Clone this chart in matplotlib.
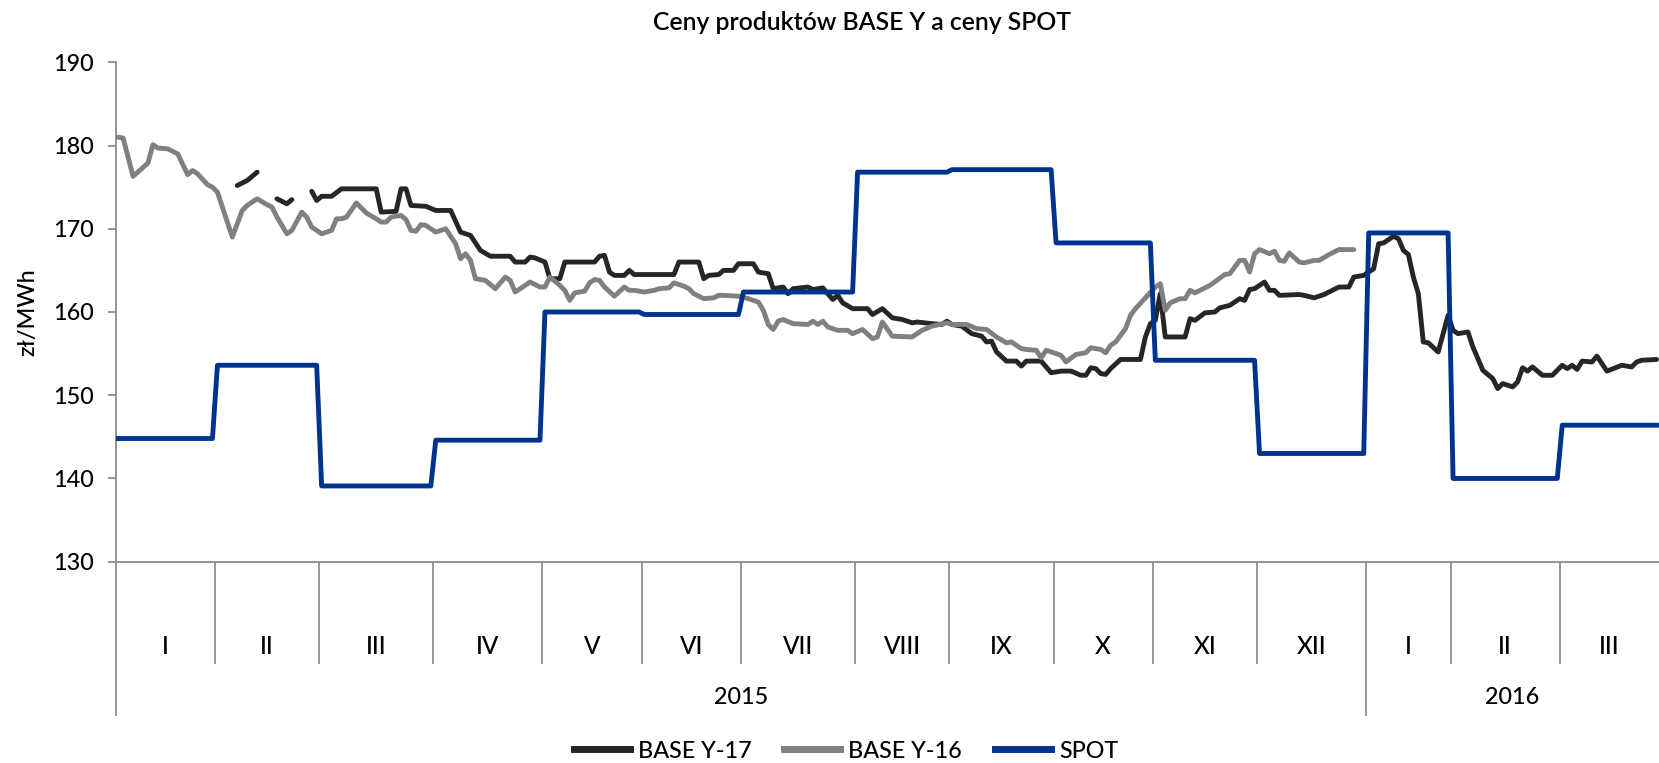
import numpy as np
import matplotlib
matplotlib.use("Agg")
import matplotlib.pyplot as plt
from matplotlib.lines import Line2D

plt.rcParams['font.family'] = ['Lato', 'DejaVu Sans']
plt.rcParams['font.weight'] = 'medium'

# ---------------- data ----------------
month_labels = ["I", "II", "III", "IV", "V", "VI", "VII", "VIII", "IX", "X", "XI", "XII", "I", "II", "III"]
month_days = [20, 21, 23, 22, 20, 20, 23, 19, 21, 20, 21, 22, 17, 22, 20]   # trading days per month
years = ["2015", "2016"]
year_months = [12, 3]

spot_monthly = [144.8, 153.6, 139.1, 144.6, 160.0, 159.7, 162.4, 176.8, 177.1,
                168.3, 154.2, 143.0, 169.5, 140.0, 146.4]

# BASE Y-16 (trading-day index, price)
y16_days = [0, 1, 3, 6, 7, 8, 10, 12, 14, 15, 16, 18, 19, 20, 23, 25, 26, 28, 30, 31,
            32, 34, 35, 37, 38, 39, 41, 43, 44, 45, 46, 48, 50, 52, 53, 54, 55, 57, 58,
            59, 60, 61, 62, 64, 66, 68, 69, 70, 71, 72, 74, 76, 78, 79, 80, 83, 85, 86,
            87, 89, 90, 91, 92, 94, 95, 96, 97, 98, 100, 102, 103, 104, 106, 108, 109,
            111, 112, 114, 115, 116, 118, 120, 121, 122, 125, 127, 129, 130, 131, 132,
            133, 134, 136, 139, 140, 141, 142, 143, 145, 147, 148, 150, 152, 153, 154,
            156, 160, 162, 164, 167, 168, 171, 173, 175, 177, 179, 180, 182, 183, 185,
            186, 187, 190, 191, 193, 195, 196, 198, 199, 200, 201, 203, 204, 205, 207,
            209, 210, 211, 212, 214, 215, 216, 217, 220, 223, 224, 226, 227, 228, 229,
            230, 232, 233, 234, 235, 236, 238, 239, 241, 242, 244, 246, 249]
y16_vals = [181.0, 180.9, 176.3, 177.9, 180.1, 179.7, 179.6, 179.0, 176.5, 177.0, 176.6,
            175.3, 175.0, 174.4, 169.0, 172.2, 172.8, 173.6, 172.9, 172.6, 171.4, 169.4,
            169.8, 172.0, 171.4, 170.2, 169.4, 169.8, 171.2, 171.2, 171.4, 173.1, 171.9,
            171.2, 170.8, 170.8, 171.4, 171.6, 171.1, 169.8, 169.7, 170.5, 170.4, 169.6,
            170.0, 168.2, 166.4, 167.0, 166.2, 164.0, 163.8, 162.8, 164.2, 163.8, 162.4,
            163.6, 163.0, 163.0, 164.2, 163.2, 162.6, 161.4, 162.3, 162.5, 163.5, 163.9,
            163.8, 163.0, 161.9, 163.0, 162.6, 162.6, 162.4, 162.6, 162.8, 162.9, 163.5,
            163.1, 162.8, 162.2, 161.6, 161.7, 162.0, 162.0, 161.9, 161.6, 161.2, 160.2,
            158.5, 157.9, 158.9, 159.1, 158.6, 158.5, 158.9, 158.5, 158.9, 158.2, 157.8,
            157.8, 157.4, 157.9, 156.8, 157.0, 158.8, 157.1, 157.0, 157.8, 158.3, 158.7,
            158.5, 158.5, 158.0, 157.9, 157.0, 156.3, 156.4, 155.6, 155.5, 155.4, 154.5,
            155.4, 154.8, 154.0, 154.9, 155.1, 155.7, 155.5, 155.1, 156.0, 156.4, 158.0,
            159.6, 160.4, 161.7, 163.0, 163.4, 160.2, 161.1, 161.6, 161.6, 162.6, 162.3,
            163.2, 164.5, 164.6, 166.2, 166.2, 164.8, 167.0, 167.5, 167.0, 167.3, 166.2,
            166.1, 167.1, 166.0, 165.9, 166.2, 166.2, 166.9, 167.5, 167.5]

# BASE Y-17 (trading-day index, price); None = no quote
y17_days = [24, 26, 28, None, 32, 34, 35, None,
            39, 40, 41, 43, 45, 52, 53, 56, 57, 58, 59, 62, 64, 67, 69, 71, 73, 75, 79,
            80, 82, 83, 84, 86, 87, 89, 90, 96, 97, 98, 99, 100, 102, 103, 104, 112, 113,
            117, 118, 119, 121, 122, 124, 125, 128, 129, 131, 132, 134, 135, 136, 139,
            140, 142, 143, 144, 145, 146, 148, 151, 152, 154, 156, 158, 160, 161, 164,
            166, 167, 168, 170, 172, 174, 175, 176, 177, 179, 181, 182, 183, 186, 188,
            190, 192, 194, 195, 196, 197, 198, 199, 200, 202, 206, 207, 208, 209, 210,
            211, 215, 216, 217, 219, 221, 222, 224, 226, 227, 228, 229, 231, 232, 233,
            234, 238, 239, 241, 243, 246, 248, 249, 251, 253, 254, 255, 257, 258, 259,
            260, 261, 262, 263, 264, 266, 268, 269, 270, 272, 273, 275, 277, 278, 279,
            281, 282, 283, 284, 285, 287, 289, 291, 292, 293, 294, 295, 297, 298, 300,
            303, 305, 306, 307, 310]
y17_vals = [175.2, 175.8, 176.8, None, 173.6, 173.0, 173.5, None,
            174.5, 173.4, 173.9, 173.9, 174.8, 174.8, 172.0, 172.1, 174.8, 174.8, 172.8,
            172.7, 172.2, 172.2, 169.6, 169.2, 167.4, 166.7, 166.7, 166.0, 166.0, 166.6,
            166.5, 166.0, 164.0, 164.0, 166.0, 166.0, 166.7, 166.8, 164.8, 164.4, 164.4,
            165.0, 164.5, 164.5, 166.0, 166.0, 164.0, 164.4, 164.5, 165.0, 165.0, 165.8,
            165.8, 164.8, 164.6, 162.8, 163.0, 162.2, 162.8, 163.0, 162.7, 162.9, 162.2,
            161.5, 162.0, 161.1, 160.4, 160.4, 159.7, 160.4, 159.3, 159.1, 158.7, 158.8,
            158.6, 158.5, 158.9, 158.5, 158.3, 157.4, 157.1, 156.4, 156.5, 155.2, 154.1,
            154.1, 153.5, 154.1, 154.1, 152.7, 152.9, 152.9, 152.4, 152.4, 153.3, 153.2,
            152.6, 152.5, 153.2, 154.3, 154.3, 157.0, 158.6, 159.0, 162.2, 157.0, 157.0,
            159.2, 159.0, 159.9, 160.0, 160.5, 160.8, 161.6, 161.4, 162.7, 162.8, 163.6,
            162.6, 162.6, 162.0, 162.1, 162.0, 161.7, 162.1, 163.0, 163.0, 164.2, 164.4,
            165.2, 168.2, 168.3, 169.1, 168.8, 167.4, 166.9, 164.2, 162.2, 156.4, 156.3,
            155.2, 159.6, 157.8, 157.4, 157.6, 155.8, 153.0, 152.0, 150.8, 151.4, 151.0,
            151.6, 153.3, 152.9, 153.4, 152.4, 152.4, 153.6, 153.2, 153.6, 153.1, 154.1,
            154.0, 154.7, 152.9, 153.6, 153.4, 154.0, 154.2, 154.3]

# ---------------- figure ----------------
W, H = 1659, 763
fig = plt.figure(figsize=(W / 100, H / 100), dpi=100)

x_left, x_right = 115.7, 1659.0
y_top, y_bot = 62.3, 561.7
ax = fig.add_axes([x_left / W, 1 - y_bot / H, (x_right - x_left) / W, (y_bot - y_top) / H])

n_days = sum(month_days)
ax.set_xlim(-0.5, n_days - 0.5)
ax.set_ylim(130, 190)

axis_col = '#8c8c8c'
c17, c16, cspot = '#262626', '#808080', '#00338d'

def to_arr(v):
    return np.array([np.nan if e is None else e for e in v], dtype=float)

spot_daily = np.repeat(spot_monthly, month_days)
days = np.arange(n_days)

ax.plot(to_arr(y17_days), to_arr(y17_vals), color=c17, lw=3.5, solid_joinstyle='round',
        solid_capstyle='round', zorder=3)
ax.plot(y16_days, y16_vals, color=c16, lw=3.5, solid_joinstyle='round',
        solid_capstyle='round', zorder=4)
ax.plot(days, spot_daily, color=cspot, lw=3.5, solid_joinstyle='round', zorder=5)

# spines and ticks
for s in ['top', 'right']:
    ax.spines[s].set_visible(False)
for s in ['left', 'bottom']:
    ax.spines[s].set_color(axis_col)
    ax.spines[s].set_linewidth(1.3)
ax.set_yticks(np.arange(130, 191, 10))
ax.tick_params(axis='y', direction='out', length=6, width=1.3, color=axis_col,
               labelsize=16.8, pad=10, labelcolor='black')
ax.set_xticks([])

# category axis (months / years)
ax_h = y_bot - y_top
def yfrac(pix):
    return (y_bot - pix) / ax_h

trans = ax.get_xaxis_transform()
bounds = np.concatenate([[0], np.cumsum(month_days)]) - 0.5
month_sep_bottom = yfrac(664)
year_sep_bottom = yfrac(716)
year_bounds_idx = np.concatenate([[0], np.cumsum(year_months)])

for i, b in enumerate(bounds[:-1]):
    bottom = year_sep_bottom if i in year_bounds_idx else month_sep_bottom
    ax.plot([b, b], [0, bottom], transform=trans, color=axis_col, lw=1.3, clip_on=False,
            solid_capstyle='butt')

for i, lab in enumerate(month_labels):
    ax.text((bounds[i] + bounds[i + 1]) / 2, yfrac(646), lab, transform=trans,
            ha='center', va='center', fontsize=17.5, color='black')

for j, yr in enumerate(years):
    a = bounds[year_bounds_idx[j]]
    b = bounds[year_bounds_idx[j + 1]]
    ax.text((a + b) / 2, yfrac(698), yr, transform=trans, ha='center', va='center',
            fontsize=16.8, color='black')

# titles
fig.text(862 / W, 1 - 22 / H, "Ceny produktów BASE Y a ceny SPOT", ha='center', va='center',
         fontsize=17.8, color='black', fontweight='semibold')
fig.text(28 / W, 1 - 312 / H, "zł/MWh", rotation=90, ha='center', va='center',
         fontsize=16.8, color='black')

# legend
handles = [Line2D([], [], color=c17, lw=5),
           Line2D([], [], color=c16, lw=5),
           Line2D([], [], color=cspot, lw=5)]
fig.legend(handles, ["BASE Y-17", "BASE Y-16", "SPOT"], loc='center',
           bbox_to_anchor=(846 / W, 1 - 751 / H), ncol=3, frameon=False,
           fontsize=16.8, handlelength=2.4, handletextpad=0.35, columnspacing=1.4,
           borderpad=0, borderaxespad=0)

fig.savefig("out.png", dpi=100)
